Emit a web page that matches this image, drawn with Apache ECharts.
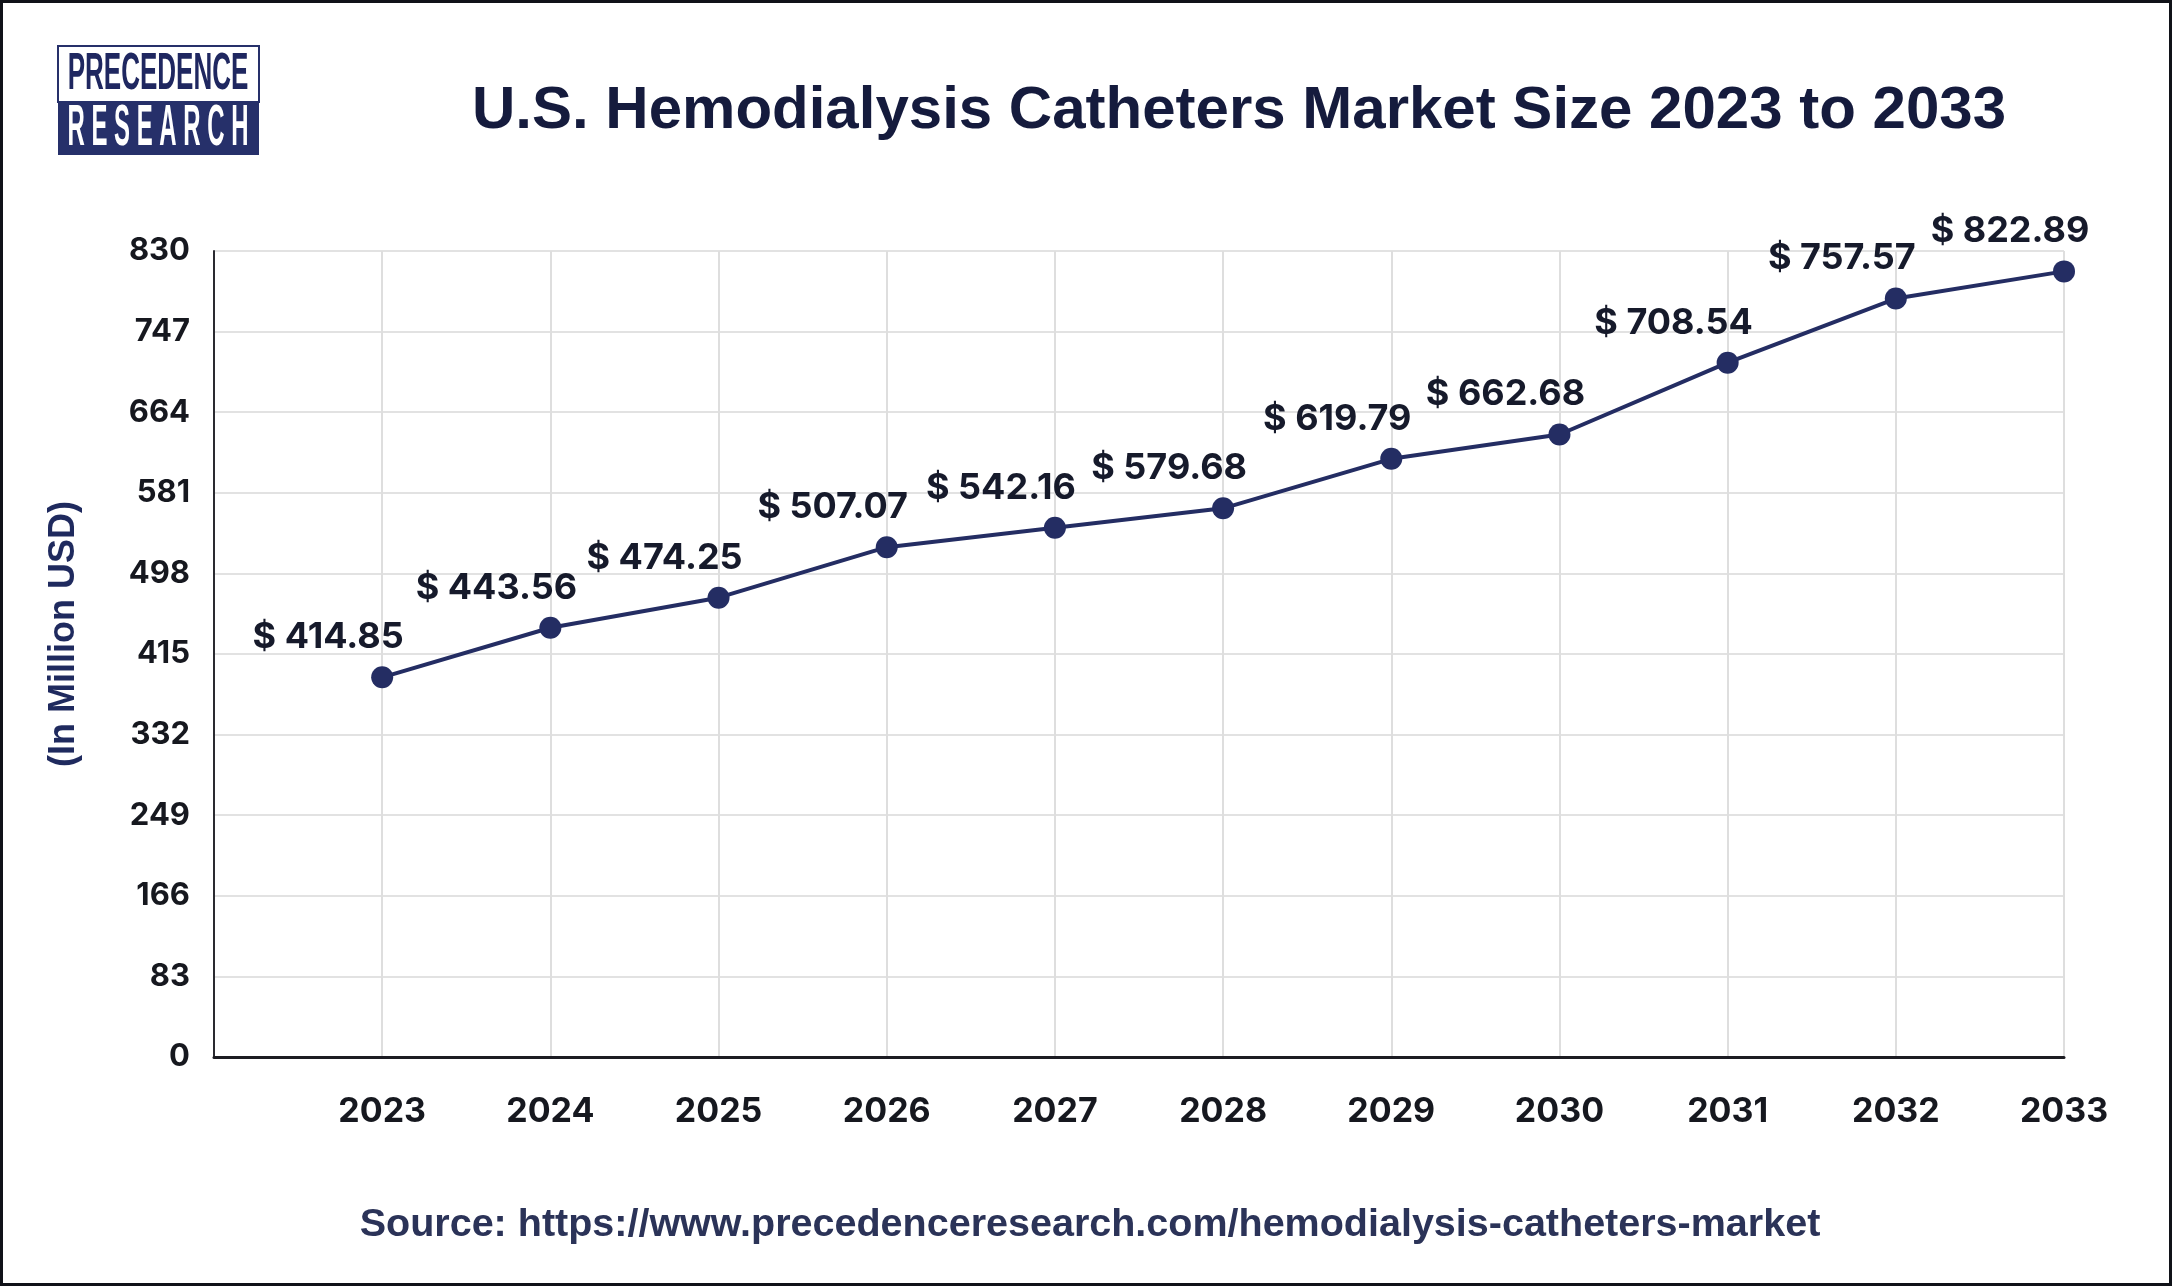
<!DOCTYPE html>
<html><head><meta charset="utf-8">
<script src="https://cdn.jsdelivr.net/npm/echarts@6/dist/echarts.min.js"></script>
<style>html,body{margin:0;padding:0;background:#fff}#c{width:2172px;height:1286px}</style>
</head><body><div id="c"></div>
<script>
// ---- data ----
const years = [2023, 2024, 2025, 2026, 2027, 2028, 2029, 2030, 2031, 2032, 2033];
const values = [391, 442, 473, 525, 545, 565, 616, 641, 715, 781, 809];
const valueLabels = ['$ 414.85', '$ 443.56', '$ 474.25', '$ 507.07', '$ 542.16', '$ 579.68',
                     '$ 619.79', '$ 662.68', '$ 708.54', '$ 757.57', '$ 822.89'];
const yTickMin = 0, yTickMax = 830, yTickStep = 83;
const titleText = 'U.S. Hemodialysis Catheters Market Size 2023 to 2033';
const sourceText = 'Source: https://www.precedenceresearch.com/hemodialysis-catheters-market';
const yAxisName = '(In Million USD)';

const NAVY = '#242d63';
const chart = echarts.init(document.getElementById('c'), null, {renderer: 'canvas'});
chart.setOption({
  backgroundColor: '#ffffff',
  animation: false,
  title: [{
    text: titleText, left: 1234, top: 76, textAlign: 'center',
    textStyle: {fontFamily: '"Liberation Sans", Arial, sans-serif', fontWeight: 'bold', fontSize: 60, color: '#151b3d'}
  }, {
    text: sourceText, left: 1085, top: 1200, textAlign: 'center',
    textStyle: {fontFamily: '"Liberation Sans", Arial, sans-serif', fontWeight: 'bold', fontSize: 39.5, color: '#2b3358'}
  }],
  grid: {left: 214, right: 108, top: 251, bottom: 229, containLabel: false},
  xAxis: {
    type: 'value', min: years[0] - 1, max: years[years.length - 1], interval: 1,
    axisLine: {show: true, lineStyle: {color: '#1c1c22', width: 3}},
    axisTick: {show: false},
    splitLine: {show: true, lineStyle: {color: '#dedede', width: 2}},
    axisLabel: {
      margin: 38, fontFamily: 'Inter, sans-serif', fontWeight: 'bold', fontSize: 34, color: '#16181f',
      formatter: v => (years.indexOf(v) >= 0 ? String(v) : '')
    }
  },
  yAxis: {
    type: 'value', min: yTickMin, max: yTickMax, interval: yTickStep,
    axisLine: {show: true, lineStyle: {color: '#2a2a30', width: 2}},
    axisTick: {show: false},
    splitLine: {show: true, lineStyle: {color: '#e2e2e2', width: 2}},
    axisLabel: {margin: 24, fontFamily: 'Inter, sans-serif', fontWeight: 'bold', fontSize: 31, color: '#16181f'}
  },
  series: [{
    type: 'line',
    data: years.map((y, i) => [y, values[i]]),
    symbol: 'circle', symbolSize: 22,
    lineStyle: {color: NAVY, width: 4},
    itemStyle: {color: NAVY},
    label: {
      show: true, position: 'inside', offset: [-54, -40],
      fontFamily: 'Inter, sans-serif', fontWeight: 'bold', fontSize: 36, color: '#161a2b',
      formatter: p => valueLabels[p.dataIndex]
    },
    z: 5
  }],
  graphic: [
    {type: 'rect', shape: {x: 0, y: 0, width: 2172, height: 1286}, style: {fill: 'none', stroke: '#101218', lineWidth: 6}, z: 100},
    // y-axis title
    {type: 'text', x: 64, y: 634, rotation: Math.PI / 2,
     style: {text: yAxisName, fill: '#1f2a5e', font: 'bold 36px "Liberation Sans", Arial, sans-serif', textAlign: 'center', textVerticalAlign: 'middle'}},
    // logo
    {type: 'rect', shape: {x: 58, y: 46, width: 201, height: 56}, style: {fill: '#ffffff', stroke: '#26306a', lineWidth: 2}},
    {type: 'rect', shape: {x: 58, y: 102, width: 201, height: 53}, style: {fill: '#26306a'}},
    {type: 'text', x: 158, y: 75, scaleX: 0.5, style: {text: 'PRECEDENCE', fill: '#1f2760', font: 'bold 52px "Liberation Sans", Arial, sans-serif', textAlign: 'center', textVerticalAlign: 'middle'}},
    {type: 'text', x: 158, y: 129, scaleX: 0.42, style: {text: 'R E S E A R C H', fill: '#ffffff', font: 'bold 57px "Liberation Sans", Arial, sans-serif', textAlign: 'center', textVerticalAlign: 'middle'}}
  ]
});
</script></body></html>
